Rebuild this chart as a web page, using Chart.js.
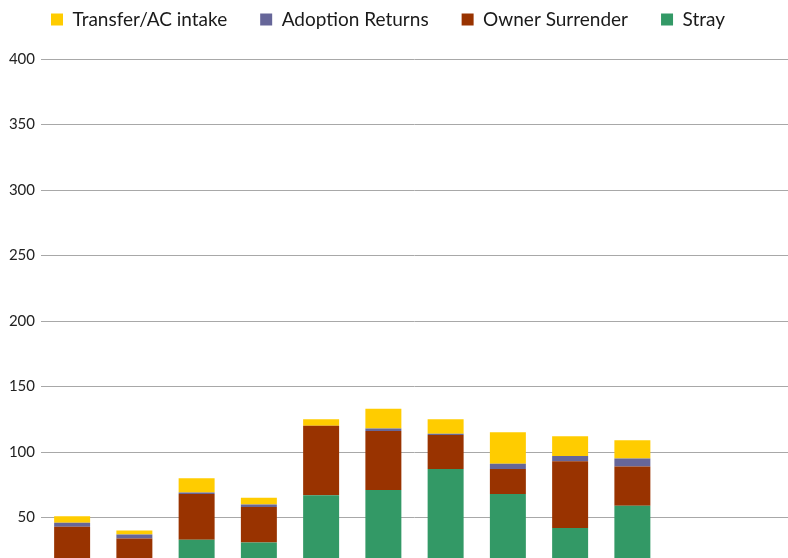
<!DOCTYPE html>
<html>
<head>
<meta charset="utf-8">
<script src="https://cdn.jsdelivr.net/npm/chart.js@4.4.1/dist/chart.umd.min.js"></script>
<style>
  html, body { margin: 0; padding: 0; background: #fff; overflow: hidden; }
  #wrap { position: relative; width: 788px; height: 613px; }
</style>
</head>
<body>
<div id="wrap"><canvas id="chart"></canvas></div>
<script>
const months = ['Jan', 'Feb', 'Mar', 'Apr', 'May', 'Jun', 'Jul', 'Aug', 'Sep', 'Oct', 'Nov', 'Dec'];
const stray = [10, 8, 33, 31, 67, 71, 87, 68, 42, 59, null, null];
const ownerSurrender = [33, 26, 35, 27, 53, 45, 26, 19, 51, 30, null, null];
const adoptionReturns = [3, 3, 1, 2, 0, 2, 1, 4, 4, 6, null, null];
const transferIntake = [5, 3, 11, 5, 5, 15, 11, 24, 15, 14, null, null];

// legend row sits near the top, plot starts lower down
const legendSpace = {
    id: 'legendSpace',
    beforeInit(chart) {
        const fit = chart.legend.fit;
        chart.legend.fit = function () {
            fit.bind(chart.legend)();
            this.height = 59;
        };
    },
    afterLayout(chart) {
        chart.legend.left = 18;
        chart.legend.top = -23;
    }
};

new Chart(document.getElementById('chart'), {
    type: 'bar',
    data: {
        labels: months,
        datasets: [
            { label: 'Stray', data: stray, backgroundColor: '#339966' },
            { label: 'Owner Surrender', data: ownerSurrender, backgroundColor: '#993300' },
            { label: 'Adoption Returns', data: adoptionReturns, backgroundColor: '#666699' },
            { label: 'Transfer/AC intake', data: transferIntake, backgroundColor: '#FFCC00' }
        ]
    },
    options: {
        responsive: true,
        maintainAspectRatio: false,
        animation: false,
        layout: { padding: 0 },
        datasets: {
            bar: { categoryPercentage: 1, barPercentage: 0.578 }
        },
        plugins: {
            legend: {
                position: 'top',
                align: 'start',
                reverse: true,
                labels: {
                    boxWidth: 12,
                    boxHeight: 12,
                    padding: 33,
                    color: '#1a1a1a',
                    font: { family: 'Lato', size: 19 }
                }
            },
            tooltip: { enabled: false }
        },
        scales: {
            x: {
                stacked: true,
                grid: { display: false },
                border: { display: false },
                ticks: { color: '#333', font: { family: 'Lato', size: 15 } },
                afterFit: s => { s.height = 30; }
            },
            y: {
                stacked: true,
                min: 0,
                max: 400,
                ticks: { stepSize: 50, padding: 6, color: '#222', font: { family: 'Lato', size: 15 } },
                grid: { color: '#a8a8a8', lineWidth: 1, drawTicks: false },
                border: { display: false },
                afterFit: s => { s.width = 41; }
            }
        }
    },
    plugins: [legendSpace]
});
</script>
</body>
</html>
